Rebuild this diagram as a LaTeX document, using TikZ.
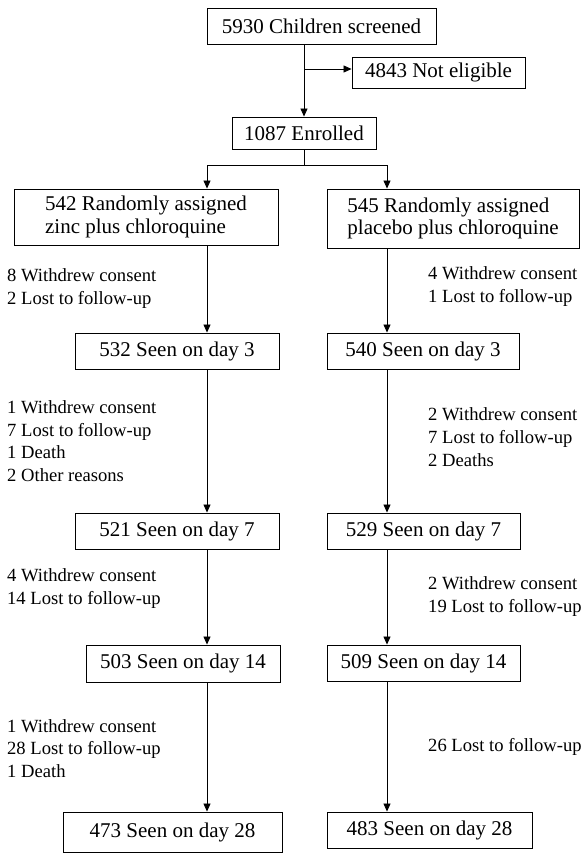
\documentclass[tikz,border=0pt]{standalone}
\usepackage{fontspec}
\setmainfont{Liberation Serif}
\usetikzlibrary{arrows.meta}

\begin{document}
\begin{tikzpicture}[x=1pt,y=-1pt,
    font=\fontsize{21}{22.8}\selectfont,
    arr/.style={-{Triangle[width=7pt,length=8pt]}}]

      \useasboundingbox (0,0) rectangle (584,853);

      \begin{scope}[every node/.style={draw,rectangle,inner sep=0pt,line width=0.9pt,align=left}]
        \node[minimum width=229pt,minimum height=36pt] (scr)  at (321.5,26)  {5930 Children screened};
        \node[minimum width=173pt,minimum height=31pt] (nel)  at (438.5,72.5) {4843 Not eligible};
        \node[minimum width=144pt,minimum height=32pt] (enr)  at (304,133)   {1087 Enrolled};
        \node[minimum width=264pt,minimum height=56pt] (zinc) at (146,217)   {542 Randomly assigned\\zinc plus chloroquine};
        \node[minimum width=252pt,minimum height=59pt] (plac) at (453,218.5) {545 Randomly assigned\\placebo plus chloroquine};
        \node[minimum width=204pt,minimum height=36pt] (l3)   at (177,351)   {532 Seen on day 3};
        \node[minimum width=192pt,minimum height=36pt] (r3)   at (423,351)   {540 Seen on day 3};
        \node[minimum width=204pt,minimum height=36pt] (l7)   at (177,531)   {521 Seen on day 7};
        \node[minimum width=193pt,minimum height=36pt] (r7)   at (423.5,531) {529 Seen on day 7};
        \node[minimum width=194pt,minimum height=37pt] (l14)  at (183,663.5) {503 Seen on day 14};
        \node[minimum width=193pt,minimum height=36pt] (r14)  at (423.5,663) {509 Seen on day 14};
        \node[minimum width=219pt,minimum height=40pt] (l28)  at (172.5,832) {473 Seen on day 28};
        \node[minimum width=205pt,minimum height=36pt] (r28)  at (429.5,830) {483 Seen on day 28};
      \end{scope}

      \begin{scope}[every node/.style={align=left,anchor=west,inner sep=0pt,
          font=\fontsize{18.6}{22.7}\selectfont}]
        \node (outL1) at (7,288.5)  {8 Withdrew consent\\2 Lost to follow-up};
        \node (outL2) at (7,441)    {1 Withdrew consent\\7 Lost to follow-up\\1 Death\\2 Other reasons};
        \node (outL3) at (7,588.5)  {4 Withdrew consent\\14 Lost to follow-up};
        \node (outL4) at (7,748.5)  {1 Withdrew consent\\28 Lost to follow-up\\1 Death};
        \node (outR1) at (428,286.5) {4 Withdrew consent\\1 Lost to follow-up};
        \node (outR2) at (428,437)   {2 Withdrew consent\\7 Lost to follow-up\\2 Deaths};
        \node (outR3) at (428,596.5) {2 Withdrew consent\\19 Lost to follow-up};
        \node (outR4) at (428,747)   {26 Lost to follow-up};
      \end{scope}

      \coordinate (brk)  at (304,69);
      \coordinate (colL) at (207,165);
      \coordinate (colR) at (387,165);

      \begin{scope}[line width=0.8pt]
        \draw[arr] (scr.south -| enr) -- (enr.north);
        \draw[arr] (brk) -- (nel.west |- brk);
        \draw (enr.south) -- (enr.south |- colL);
        \draw[arr] (enr.south |- colL) -- (colL) -- (zinc.north -| colL);
        \draw[arr] (enr.south |- colR) -- (colR) -- (plac.north -| colR);

        \draw[arr] (zinc.south -| colL) -- (l3.north -| colL);
        \draw[arr] (l3.south -| colL)   -- (l7.north -| colL);
        \draw[arr] (l7.south -| colL)   -- (l14.north -| colL);
        \draw[arr] (l14.south -| colL)  -- (l28.north -| colL);

        \draw[arr] (plac.south -| colR) -- (r3.north -| colR);
        \draw[arr] (r3.south -| colR)   -- (r7.north -| colR);
        \draw[arr] (r7.south -| colR)   -- (r14.north -| colR);
        \draw[arr] (r14.south -| colR)  -- (r28.north -| colR);
      \end{scope}

    \end{tikzpicture}
\end{document}
